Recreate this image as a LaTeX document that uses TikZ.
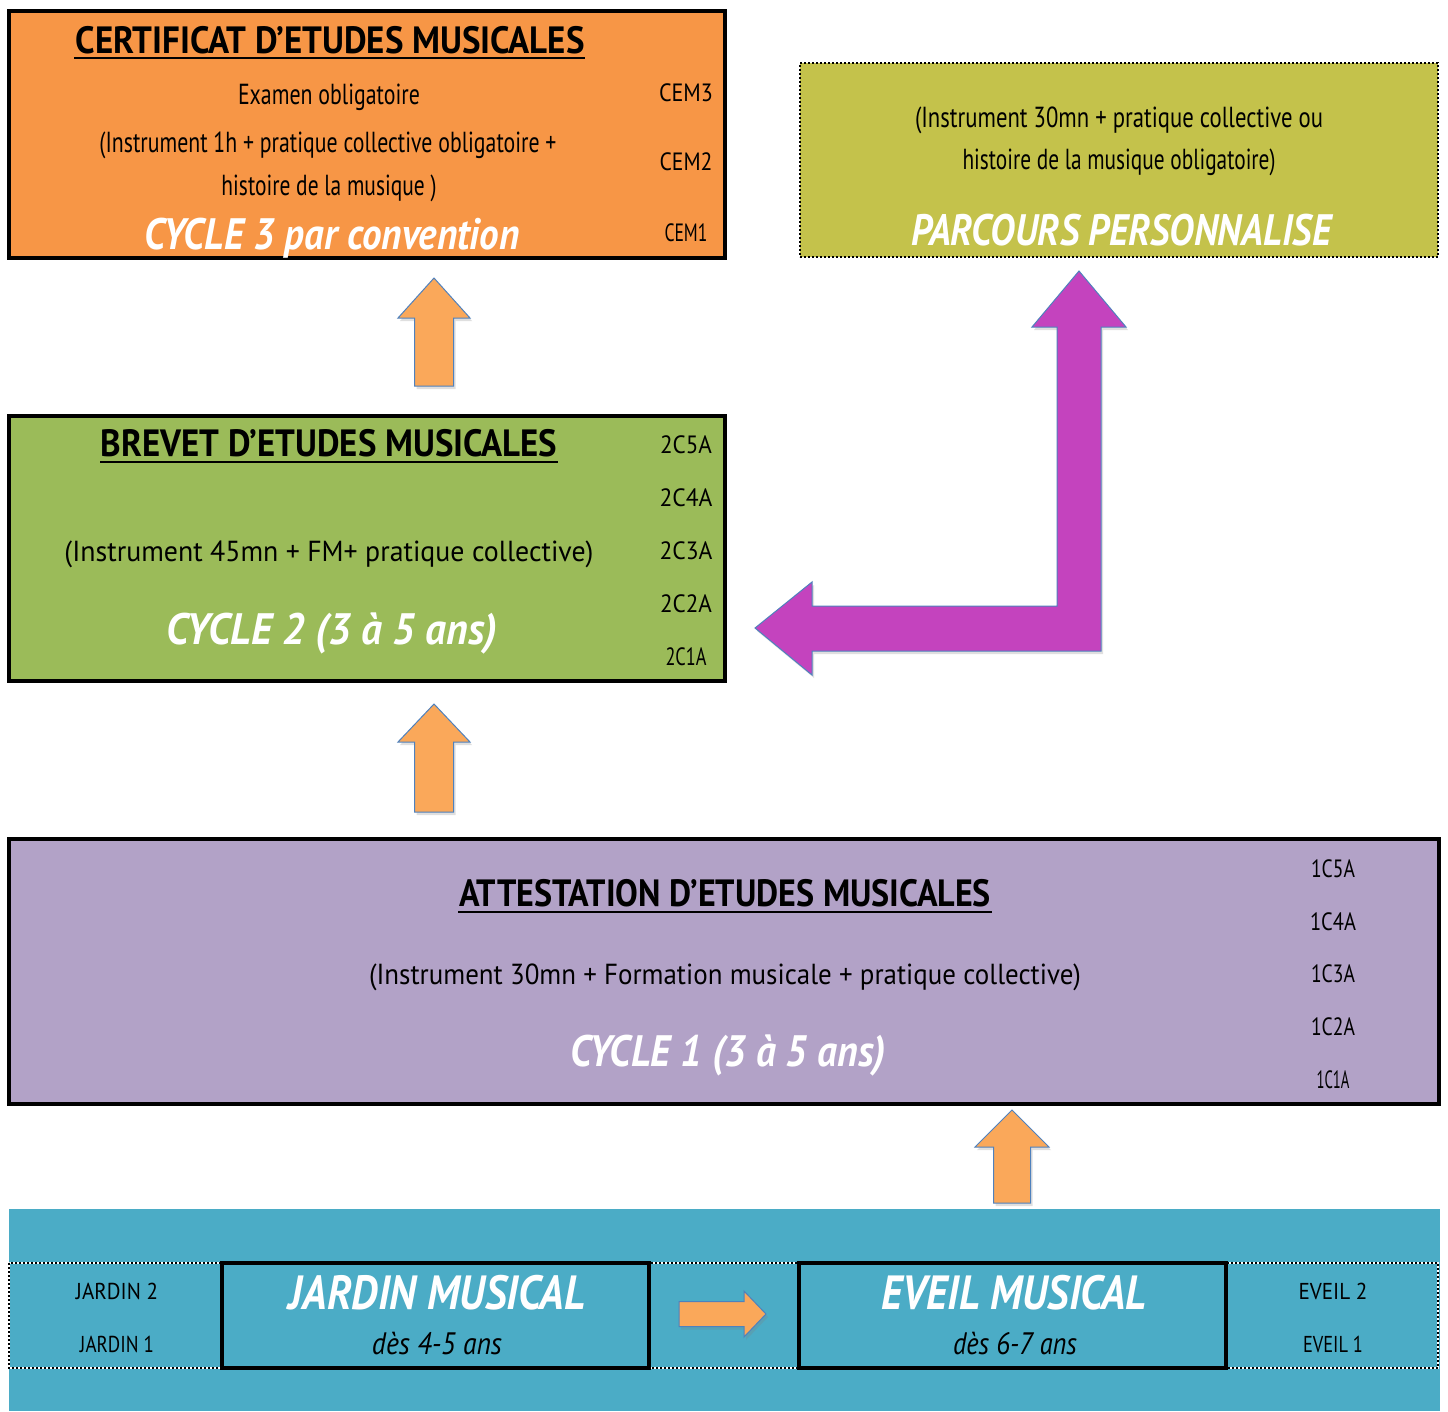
\documentclass[tikz,border=0pt]{standalone}
\usepackage{fontspec}
\setmainfont{PT Sans}
\usetikzlibrary{calc,shadows}
\definecolor{cemfill}{RGB}{247,150,70}
\definecolor{parfill}{RGB}{196,194,75}
\definecolor{bemfill}{RGB}{155,187,89}
\definecolor{aemfill}{RGB}{178,162,199}
\definecolor{bandfill}{RGB}{75,172,198}
\definecolor{arrfill}{RGB}{250,168,90}
\definecolor{magfill}{RGB}{196,67,190}
\definecolor{arredge}{RGB}{79,129,189}
\newcommand\W[2]{\resizebox{#1pt}{\height}{#2}}
\newcommand\blkup[5]{%
  \draw[blockarr] (#2) -- ++(#4,#3) -- ++({#5-#4},0) -- ($(#1)+(#5,0)$) -- ($(#1)+(-#5,0)$)
    -- ($(#2)+(-#5,#3)$) -- ++({#5-#4},0) -- cycle;}
\newcommand\blkright[5]{%
  \draw[blockarr] (#2) -- ++(-#3,#4) -- ++(0,{#5-#4}) -- ($(#1)+(0,#5)$) -- ($(#1)+(0,-#5)$)
    -- ($(#2)+(-#3,-#5)$) -- ++(0,{#5-#4}) -- cycle;}
\begin{document}
\begin{tikzpicture}[x=1pt,y=-1pt,
  box/.style={draw=black, line width=4pt, anchor=north west, inner sep=0pt, outer sep=0pt},
  t/.style={inner sep=0pt, anchor=base},
  body/.style={t, font=\fontsize{29}{31}\selectfont},
  ttl/.style={t, font=\fontsize{38}{40}\selectfont\bfseries},
  wht/.style={t, text=white, font=\fontsize{44}{46}\selectfont\bfseries\itshape},
  lbl/.style={t, font=\fontsize{25}{27}\selectfont},
  small/.style={t, font=\fontsize{23}{25}\selectfont},
  ul/.style={line width=2.5pt},
  blockarr/.style={fill=arrfill, draw=arredge, line width=1pt, line join=miter,
    drop shadow={opacity=0.25, shadow xshift=2pt, shadow yshift=-3pt}},
  magarr/.style={fill=magfill, draw=arredge, line width=1pt, line join=miter,
    drop shadow={opacity=0.25, shadow xshift=2pt, shadow yshift=-3pt}}]
\useasboundingbox (0,0) rectangle (1448,1411);

% ---------- CEM (orange) ----------
\node[box, fill=cemfill, minimum width=716pt, minimum height=247pt] (cem) at (9,11) {};
\node[ttl] (cemT) at (330,53) {\W{509}{CERTIFICAT D'ETUDES MUSICALES}};
\draw[ul] (74,58) -- (585,58);
\node[body] (cem1) at (329,104) {\W{182}{Examen obligatoire}};
\node[body] (cem2) at (328,152) {\W{457}{(Instrument 1h + pratique collective obligatoire +}};
\node[body] (cem3) at (329,195) {\W{215}{histoire de la musique )}};
\node[wht] (cemC) at (332,249) {\W{375}{CYCLE 3 par convention}};
\node[lbl] (lc3) at (686,101) {\W{54}{CEM3}};
\node[lbl] (lc2) at (686,170) {\W{53}{CEM2}};
\node[lbl] (lc1) at (686,241) {\W{43}{CEM1}};

% ---------- Parcours (olive) ----------
\node[box, line width=2pt, dotted, fill=parfill, minimum width=638pt, minimum height=194pt] (par) at (800,63) {};
\node[body] (par1) at (1119,127) {\W{408}{(Instrument 30mn + pratique collective ou}};
\node[body] (par2) at (1119,169) {\W{313}{histoire de la musique obligatoire)}};
\node[wht] (parC) at (1121,245) {\W{420}{PARCOURS PERSONNALISE}};

% ---------- BEM (green) ----------
\node[box, fill=bemfill, minimum width=716pt, minimum height=265pt] (bem) at (9,416) {};
\node[ttl] (bemT) at (329,456) {\W{456}{BREVET D'ETUDES MUSICALES}};
\draw[ul] (100,462) -- (558,462);
\node[body] (bem1) at (329,561) {\W{529}{(Instrument 45mn + FM+ pratique collective)}};
\node[wht] (bemC) at (332,644) {\W{331}{CYCLE 2 (3 à 5 ans)}};
\node[lbl] (l25) at (686,453) {\W{52}{2C5A}};
\node[lbl] (l24) at (686,506) {\W{53}{2C4A}};
\node[lbl] (l23) at (686,559) {\W{53}{2C3A}};
\node[lbl] (l22) at (686,612) {\W{52}{2C2A}};
\node[lbl] (l21) at (686,665) {\W{41}{2C1A}};

% ---------- AEM (purple) ----------
\node[box, fill=aemfill, minimum width=1430pt, minimum height=265pt] (aem) at (9,839) {};
\node[ttl] (aemT) at (725,906) {\W{532}{ATTESTATION D'ETUDES MUSICALES}};
\draw[ul] (458,912) -- (992,912);
\node[body] (aem1) at (725,984) {\W{712}{(Instrument 30mn + Formation musicale + pratique collective)}};
\node[wht] (aemC) at (728,1066) {\W{316}{CYCLE 1 (3 à 5 ans)}};
\node[lbl] (l15) at (1333,877) {\W{44}{1C5A}};
\node[lbl] (l14) at (1333,930) {\W{46}{1C4A}};
\node[lbl] (l13) at (1333,982) {\W{44}{1C3A}};
\node[lbl] (l12) at (1333,1035) {\W{44}{1C2A}};
\node[lbl] (l11) at (1333,1088) {\W{33}{1C1A}};

% ---------- Bottom band ----------
\node[anchor=north west, fill=bandfill, inner sep=0pt, outer sep=0pt, minimum width=1431pt, minimum height=202pt] (band) at (9,1209) {};
\draw[white, line width=2pt] (9,1263) rectangle (1438,1368);
\draw[black, line width=2pt, dotted] (9,1263) rectangle (1438,1368);
\node[box, fill=bandfill, minimum width=427pt, minimum height=105pt] (jar) at (222,1263) {};
\node[box, fill=bandfill, minimum width=427pt, minimum height=105pt] (eve) at (799,1263) {};
\node[wht, font=\fontsize{48}{50}\selectfont\bfseries\itshape] (jarT) at (437,1309) {\W{296}{JARDIN MUSICAL}};
\node[body, font=\fontsize{31}{33}\selectfont\itshape] (jarA) at (437,1354) {\W{130}{dès 4-5 ans}};
\node[wht, font=\fontsize{48}{50}\selectfont\bfseries\itshape] (eveT) at (1014,1309) {\W{265}{EVEIL MUSICAL}};
\node[body, font=\fontsize{31}{33}\selectfont\itshape] (eveA) at (1015,1354) {\W{124}{dès 6-7 ans}};
\node[small] (j2) at (117,1299) {\W{82}{JARDIN 2}};
\node[small] (j1) at (117,1352) {\W{74}{JARDIN 1}};
\node[small] (e2) at (1333,1299) {\W{69}{EVEIL 2}};
\node[small] (e1) at (1333,1352) {\W{60}{EVEIL 1}};

% ---------- Arrows ----------
\coordinate (a1s) at (434,386); \coordinate (a1e) at (434,278);
\coordinate (a2s) at (434,812); \coordinate (a2e) at (434,704);
\coordinate (a3s) at (1012,1203); \coordinate (a3e) at (1012,1110);
\coordinate (a4s) at (679,1314); \coordinate (a4e) at (766,1314);
\blkup{a1s}{a1e}{40}{36}{19.5}
\blkup{a2s}{a2e}{38}{36}{19.5}
\blkup{a3s}{a3e}{37}{37}{18.5}
\blkright{a4s}{a4e}{22}{23}{12.5}

\coordinate (mup) at (1079,271);
\coordinate (mleft) at (755,628);
\draw[magarr] (mup) -- (1126,327) -- (1101,327) -- (1101,651) -- (812,651) -- (812,675)
  -- (mleft) -- (812,582) -- (812,606) -- (1057,606) -- (1057,327) -- (1032,327) -- cycle;
\end{tikzpicture}
\end{document}
